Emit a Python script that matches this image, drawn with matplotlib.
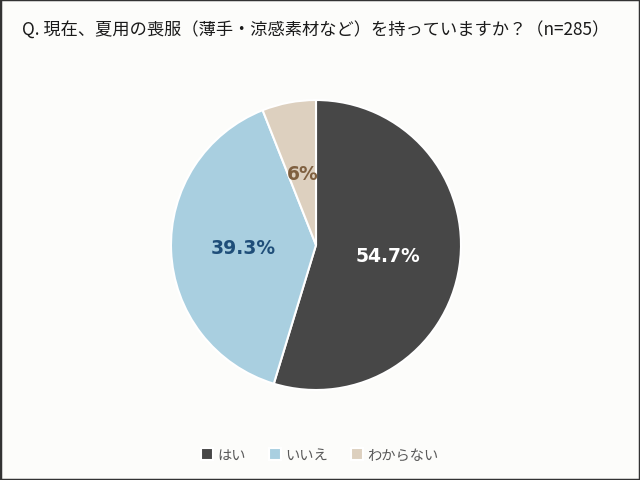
import numpy as np
import matplotlib.pyplot as plt
from matplotlib.patches import Rectangle

plt.rcParams['font.family'] = ['Noto Sans CJK JP', 'DejaVu Sans']

# dados
labels = ['はい', 'いいえ', 'わからない']
values = [54.7, 39.3, 6.0]
pct_text = ['54.7%', '39.3%', '6%']
colors = ['#474747', '#a9cfe0', '#ddd0bf']
text_colors = ['white', '#1f4e79', '#7f6040']
title = 'Q. 現在、夏用の喪服（薄手・涼感素材など）を持っていますか？（n=285）'

fig = plt.figure(figsize=(6.4, 4.81), dpi=100, facecolor='#fcfcfa')

# eixo da pizza (centro ~ 316,246 px, raio ~145 px)
ax = fig.add_axes([171 / 640, 90 / 481, 290 / 640, 290 / 481])
wedges, _ = ax.pie(values, colors=colors, startangle=90, counterclock=False,
                   wedgeprops=dict(edgecolor='white', linewidth=1.5))
ax.set_xlim(-1, 1)
ax.set_ylim(-1, 1)
ax.set_aspect('equal')

# rótulos de porcentagem
for w, txt, c in zip(wedges, pct_text, text_colors):
    ang = np.deg2rad((w.theta1 + w.theta2) / 2)
    ax.text(0.5 * np.cos(ang), 0.5 * np.sin(ang), txt, color=c,
            ha='center', va='center', fontsize=13.5, fontweight='bold',
            family='DejaVu Sans')

# título
fig.text(22 / 640, 1 - 31 / 481, title, ha='left', va='center',
         fontsize=12.4, color='#1a1a1a')

# legenda
fig.legend(wedges, labels, loc='center', bbox_to_anchor=(0.5, 1 - 456 / 481),
           ncol=3, frameon=False, fontsize=10.3, labelcolor='#595959',
           handlelength=0.85, handleheight=0.85, handletextpad=0.3,
           columnspacing=1.6)

# moldura
fig.add_artist(Rectangle((0, 0), 1, 1, transform=fig.transFigure,
                         fill=False, edgecolor='#333333', linewidth=2.5))

fig.savefig('out.png', dpi=100, facecolor=fig.get_facecolor())
